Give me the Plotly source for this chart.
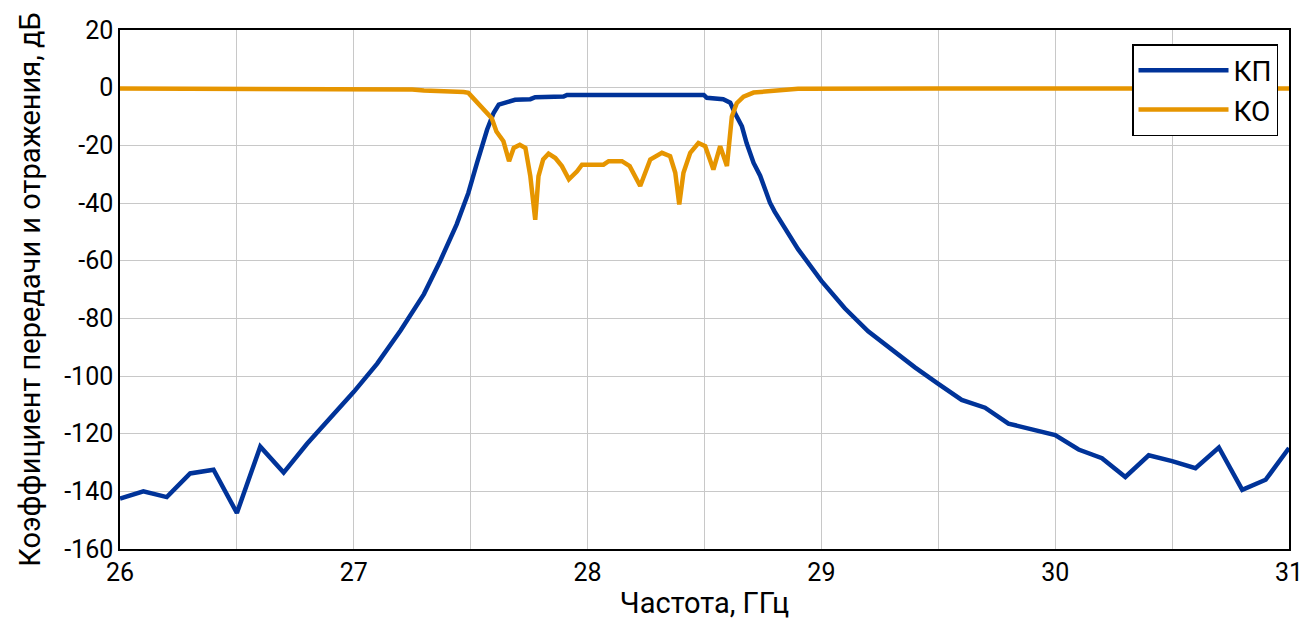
import plotly.graph_objects as go

# КП (transmission) data
freq_kp = [26.0, 26.1, 26.2, 26.3, 26.4, 26.5, 26.6, 26.7, 26.8, 26.9,
           27.0, 27.1, 27.2, 27.3, 27.37, 27.44, 27.49, 27.527, 27.57, 27.598,
           27.62, 27.656, 27.69, 27.755, 27.776, 27.897, 27.912, 28.497, 28.51, 28.58,
           28.61, 28.63, 28.66, 28.68, 28.71, 28.738, 28.78, 28.8, 28.9, 29.0,
           29.1, 29.2, 29.3, 29.4, 29.5, 29.6, 29.7, 29.8, 29.9, 30.0,
           30.1, 30.2, 30.3, 30.4, 30.5, 30.6, 30.7, 30.8, 30.9, 31.0]
kp = [-142.5, -140.0, -142.0, -133.8, -132.5, -147.5, -124.5, -133.5, -123.5, -114.5,
      -105.5, -95.7, -84.2, -71.6, -60.0, -47.4, -36.5, -26.1, -14.6, -8.8,
      -5.9, -5.0, -4.2, -4.0, -3.3, -3.1, -2.5, -2.5, -3.5, -4.0,
      -5.2, -8.8, -13.4, -19.2, -26.1, -30.5, -39.9, -43.0, -56.0, -67.0,
      -76.5, -84.5, -91.0, -97.0, -102.7, -108.3, -111.0, -116.5, -118.5, -120.5,
      -125.5, -128.5, -135.0, -127.5, -129.5, -132.0, -124.8, -139.5, -136.0, -125.0]

# КО (reflection) data
freq_ko = [26.0, 26.5, 27.0, 27.2, 27.25, 27.3, 27.4, 27.47, 27.49,
           27.54, 27.59, 27.61, 27.64, 27.664, 27.684, 27.71, 27.734, 27.755, 27.776,
           27.79, 27.81, 27.833, 27.862, 27.89, 27.92, 27.955, 27.976, 28.068, 28.09,
           28.147, 28.18, 28.225, 28.268, 28.318, 28.353, 28.375, 28.392, 28.41, 28.439,
           28.474, 28.503, 28.538, 28.567, 28.596, 28.617, 28.638, 28.667, 28.71, 28.78,
           28.85, 28.9, 29.5, 30.0, 30.5, 31.0]
ko = [-0.3, -0.3, -0.3, -0.3, -0.6, -1.0, -1.2, -1.5, -1.8,
      -6.3, -10.6, -15.2, -18.6, -25.5, -20.9, -19.8, -20.9, -30.7, -45.8,
      -30.7, -24.9, -22.9, -24.4, -27.2, -31.8, -29.0, -26.7, -26.7, -25.5,
      -25.5, -27.2, -34.1, -24.9, -22.6, -23.8, -29.5, -40.5, -29.5, -22.6,
      -19.2, -20.3, -28.4, -20.3, -27.2, -10.0, -5.4, -3.1, -1.7, -1.3,
      -0.8, -0.4, -0.3, -0.3, -0.3, -0.3]

x_ticks = [26, 27, 28, 29, 30, 31]
y_ticks = [20, 0, -20, -40, -60, -80, -100, -120, -140, -160]

FONT = "Roboto"

fig = go.Figure()
fig.add_trace(go.Scatter(x=freq_kp, y=kp, mode="lines", name="КП",
                         line=dict(color="#003399", width=4.5)))
fig.add_trace(go.Scatter(x=freq_ko, y=ko, mode="lines", name="КО",
                         line=dict(color="#E69500", width=4.5)))

fig.update_layout(
    width=1299, height=612,
    margin=dict(l=112, r=18, t=22, b=71),
    paper_bgcolor="white", plot_bgcolor="white",
    font=dict(family=FONT, size=25, color="black"),
    showlegend=True,
    legend=dict(x=0.9906, y=0.973, xanchor="right", yanchor="top",
                bgcolor="white", bordercolor="black", borderwidth=1.5,
                font=dict(size=28), itemwidth=90, tracegroupgap=0),
)
fig.update_xaxes(
    range=[26, 31], tickvals=x_ticks, ticktext=[str(v) for v in x_ticks],
    showgrid=True, gridcolor="#c8c8c8", gridwidth=1,
    minor=dict(dtick=0.5, showgrid=True, gridcolor="#c8c8c8", gridwidth=1),
    showline=True, linecolor="black", linewidth=1.5, mirror=True,
    ticks="", zeroline=False, automargin=False,
    title=dict(text="Частота, ГГц", font=dict(size=29)),
    tickfont=dict(size=25),
)
fig.update_yaxes(
    range=[-160, 20], tickvals=y_ticks, ticktext=[str(v) for v in y_ticks],
    showgrid=True, gridcolor="#c8c8c8", gridwidth=1,
    showline=True, linecolor="black", linewidth=1.5, mirror=True,
    ticks="", zeroline=False, automargin=False,
    title=dict(text="Коэффициент передачи и отражения, дБ", font=dict(size=29)),
    tickfont=dict(size=25),
)

fig.write_html("out.html")
